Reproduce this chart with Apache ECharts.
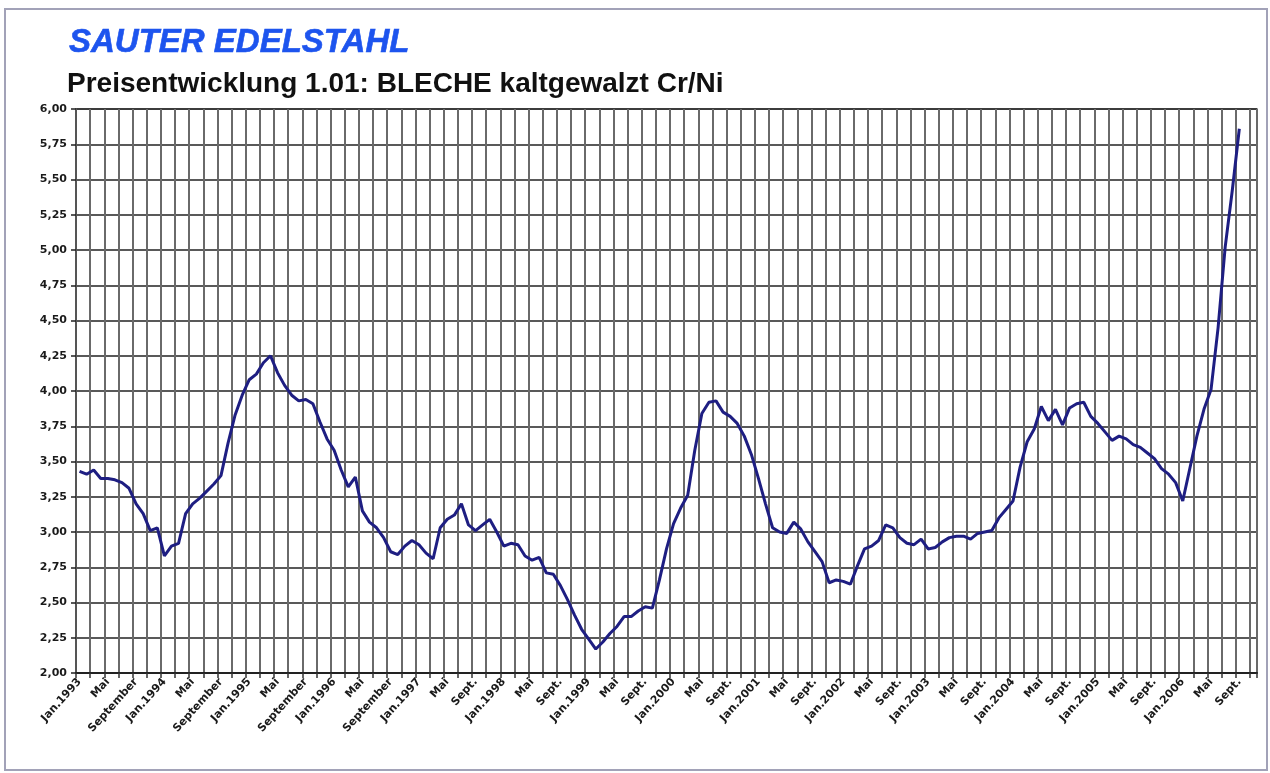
<!DOCTYPE html>
<html>
<head>
<meta charset="utf-8">
<script src="https://cdn.jsdelivr.net/npm/echarts@6/dist/echarts.min.js"></script>
<style>
  html, body { margin: 0; padding: 0; background: #fff; }
  #container { width: 1270px; height: 773px; }
</style>
</head>
<body>
<div id="container"></div>
<script>
// monthly prices, Jan 1993 .. Sept 2006
var v1993 = [3.43, 3.41, 3.44, 3.38, 3.38, 3.37, 3.35, 3.31, 3.20, 3.13, 3.01, 3.03];
var v1994 = [2.83, 2.90, 2.92, 3.13, 3.20, 3.24, 3.29, 3.34, 3.40, 3.63, 3.83, 3.97];
var v1995 = [4.08, 4.12, 4.20, 4.25, 4.13, 4.04, 3.97, 3.93, 3.94, 3.91, 3.78, 3.66];
var v1996 = [3.58, 3.44, 3.32, 3.39, 3.15, 3.07, 3.03, 2.96, 2.86, 2.84, 2.90, 2.94];
var v1997 = [2.91, 2.85, 2.81, 3.03, 3.09, 3.12, 3.20, 3.05, 3.01, 3.05, 3.09, 3.00];
var v1998 = [2.90, 2.92, 2.91, 2.83, 2.80, 2.82, 2.71, 2.70, 2.62, 2.52, 2.41, 2.31];
var v1999 = [2.24, 2.17, 2.22, 2.28, 2.33, 2.40, 2.40, 2.44, 2.47, 2.46, 2.66, 2.88];
var v2000 = [3.06, 3.17, 3.26, 3.58, 3.84, 3.92, 3.93, 3.85, 3.82, 3.77, 3.68, 3.55];
var v2001 = [3.38, 3.20, 3.03, 3.00, 2.99, 3.07, 3.02, 2.93, 2.86, 2.79, 2.64, 2.66];
var v2002 = [2.65, 2.63, 2.76, 2.88, 2.90, 2.94, 3.05, 3.03, 2.96, 2.92, 2.91, 2.95];
var v2003 = [2.88, 2.89, 2.93, 2.96, 2.97, 2.97, 2.95, 2.99, 3.00, 3.01, 3.10, 3.16];
var v2004 = [3.22, 3.46, 3.64, 3.73, 3.89, 3.79, 3.87, 3.76, 3.88, 3.91, 3.92, 3.82];
var v2005 = [3.77, 3.71, 3.65, 3.68, 3.66, 3.62, 3.60, 3.56, 3.52, 3.45, 3.41, 3.35];
var v2006 = [3.22, 3.45, 3.68, 3.87, 4.01, 4.45, 5.02, 5.42, 5.86];

var firstYear = 1993;
var monthCount = 167;            // axis runs Jan 1993 .. Nov 2006
var tickNames = ['Jan.', 'Mai', 'September', 'Sept.'];

var prices = [].concat(v1993, v1994, v1995, v1996, v1997, v1998, v1999,
                       v2000, v2001, v2002, v2003, v2004, v2005, v2006);

var months = [];
for (var i = 0; i < monthCount; i++) {
    var y = firstYear + Math.floor(i / 12);
    var m = i % 12 + 1;
    months.push(y + '-' + (m < 10 ? '0' + m : m));
}

var dom = document.getElementById('container');
var myChart = echarts.init(dom);

var option = {
    backgroundColor: '#fff',
    animation: false,
    graphic: [
        {
            type: 'rect',
            shape: { x: 5, y: 9, width: 1262, height: 761 },
            style: { fill: 'none', stroke: '#a2a2b8', lineWidth: 2 }
        },
        {
            type: 'text',
            style: {
                x: 69, y: 43,
                text: 'SAUTER EDELSTAHL',
                font: 'italic bold 33px "Liberation Sans", Arial, sans-serif',
                fill: '#1d54ee',
                stroke: '#1d54ee',
                lineWidth: 0.6,
                textVerticalAlign: 'middle'
            }
        },
        {
            type: 'text',
            style: {
                x: 67, y: 84,
                text: 'Preisentwicklung 1.01: BLECHE kaltgewalzt Cr/Ni',
                font: 'bold 28px "Liberation Sans", Arial, sans-serif',
                fill: '#111',
                textVerticalAlign: 'middle'
            }
        }
    ],
    grid: {
        left: 76, top: 109, width: 1181, height: 564,
        show: true, borderColor: '#666', borderWidth: 1.5
    },
    xAxis: {
        type: 'category',
        data: months,
        boundaryGap: true,
        axisLine: { show: true, lineStyle: { color: '#222', width: 2 } },
        axisTick: { show: true, interval: 1, length: 5, lineStyle: { color: '#333', width: 1.5 } },
        splitLine: { show: true, interval: 1, lineStyle: { color: '#6a6a6a', width: 2 } },
        axisLabel: {
            interval: 3,
            rotate: 48,
            margin: 7,
            color: '#1a1a1a',
            fontFamily: 'DejaVu Sans',
            fontWeight: 'bold',
            fontSize: 11,
            formatter: function (value, index) {
                var m = index % 12;
                var y = firstYear + Math.floor(index / 12);
                if (m === 0) return tickNames[0] + y;
                if (m === 4) return tickNames[1];
                if (m === 8) return y < 1997 ? tickNames[2] : tickNames[3];
                return '';
            }
        }
    },
    yAxis: {
        type: 'value',
        min: 2,
        max: 6,
        interval: 0.25,
        axisLine: { show: true, lineStyle: { color: '#555', width: 2 } },
        axisTick: { show: true, length: 5, lineStyle: { color: '#222', width: 1.5 } },
        splitLine: { show: true, lineStyle: { color: '#222', width: 1.6 } },
        axisLabel: {
            margin: 9,
            color: '#1a1a1a',
            fontFamily: 'DejaVu Sans',
            fontWeight: 'bold',
            fontSize: 11,
            formatter: function (v) {
                return v.toFixed(2).replace('.', ',');
            }
        }
    },
    series: [
        {
            name: 'BLECHE kaltgewalzt Cr/Ni',
            type: 'line',
            data: prices,
            symbol: 'none',
            smooth: false,
            lineStyle: { color: '#1e1e82', width: 3 }
        }
    ]
};

myChart.setOption(option);
</script>
</body>
</html>
